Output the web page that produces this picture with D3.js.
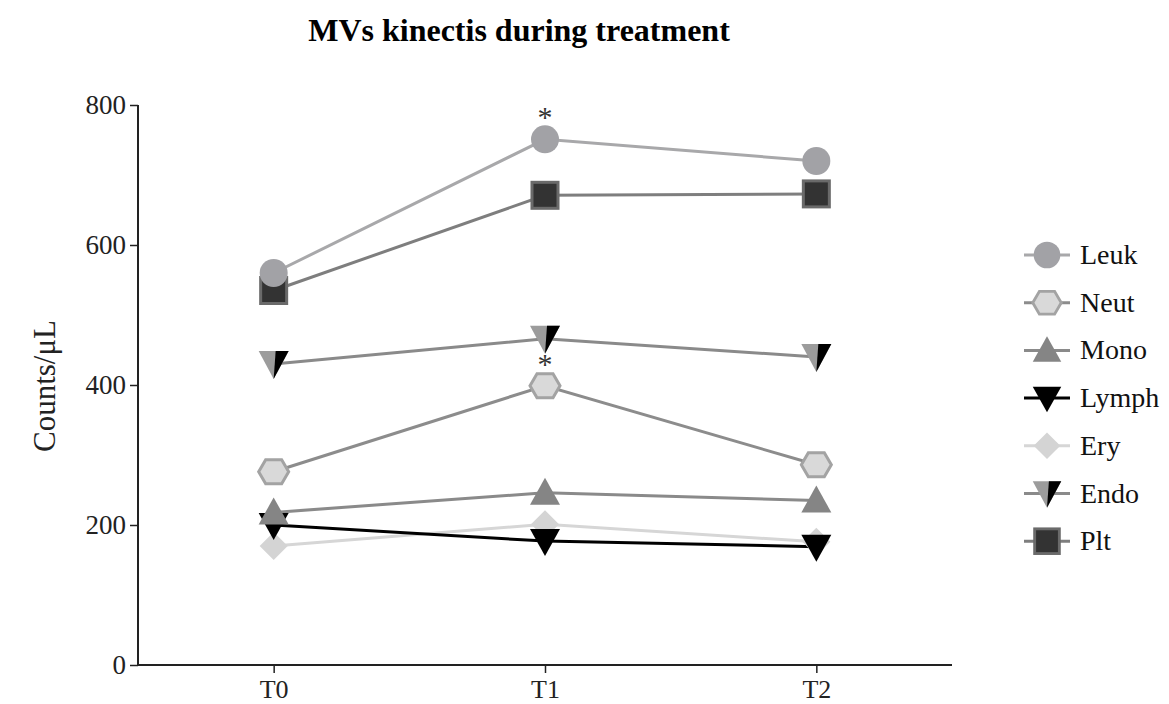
<!DOCTYPE html>
<html><head><meta charset="utf-8">
<script src="https://cdn.jsdelivr.net/npm/d3@7"></script>
<style>body{margin:0;background:#fff}svg{display:block}text{font-family:"Liberation Serif","Times New Roman",serif}</style>
</head><body>
<script>
const timepoints = ["T0","T1","T2"];
const seriesNames = ["Leuk","Neut","Mono","Lymph","Ery","Endo","Plt"];
const leuk  = [560, 751, 720];
const neut  = [276, 399, 286];
const mono  = [218, 246, 235];
const lymph = [200, 177, 169];
const ery   = [170, 201, 176];
const endo  = [430, 466, 440];
const plt   = [535, 671, 673];
const yTicks = [0, 200, 400, 600, 800];
const starIdx = [{series:"Leuk", t:"T1"}, {series:"Neut", t:"T1"}];

const values = {Leuk:leuk, Neut:neut, Mono:mono, Lymph:lymph, Ery:ery, Endo:endo, Plt:plt};
const style = {
  Leuk: {shape:"circle",  fill:"#a2a2a6", stroke:"#a2a2a6", line:"#a8a8aa", sw:0},
  Neut: {shape:"hex",     fill:"#d9d9d9", stroke:"#a3a3a3", line:"#8c8c8c", sw:3},
  Mono: {shape:"up",      fill:"#858585", stroke:"#858585", line:"#8a8a8a", sw:0},
  Lymph:{shape:"down",    fill:"#000000", stroke:"#000",    line:"#000000", sw:0},
  Ery:  {shape:"diamond", fill:"#d4d4d4", stroke:"#d4d4d4", line:"#d6d6d6", sw:0},
  Endo: {shape:"endo",    fill:"#9c9c9c", stroke:"#9c9c9c", line:"#8a8a8a", sw:0},
  Plt:  {shape:"square",  fill:"#333333", stroke:"#6a6a6a", line:"#7e7e7e", sw:3}
};

const W = 1169, H = 704;
const svg = d3.select("body").append("svg").attr("width", W).attr("height", H);

const x = d3.scalePoint().domain(timepoints).range([138, 952]).padding(0.5);
const y = d3.scaleLinear().domain([0, 800]).range([665, 105]);

// title
svg.append("text").attr("x", 519).attr("y", 41).attr("text-anchor","middle")
  .attr("font-size", 32).attr("font-weight","bold").text("MVs kinectis during treatment");

// axes
const yAxis = svg.append("g").attr("transform","translate(138,0)")
  .call(d3.axisLeft(y).tickValues(yTicks).tickSize(8).tickPadding(4));
const xAxis = svg.append("g").attr("transform","translate(0,665)")
  .call(d3.axisBottom(x).tickSize(8).tickPadding(7).tickSizeOuter(0));
[yAxis, xAxis].forEach(g => {
  g.select(".domain").attr("stroke","#222").attr("stroke-width",2);
  g.selectAll(".tick line").attr("stroke","#222").attr("stroke-width",1.5);
  g.selectAll(".tick text").attr("fill","#222")
    .attr("font-family",'"Liberation Serif","Times New Roman",serif');
});
yAxis.selectAll(".tick text").attr("font-size",27);
xAxis.selectAll(".tick text").attr("font-size",26);
yAxis.select(".domain").attr("d","M0,"+y(800)+"V"+y(0));
xAxis.select(".domain").attr("d","M138,0H952");

svg.append("text").attr("transform","translate(55,386) rotate(-90)")
  .attr("text-anchor","middle").attr("font-size",31).attr("fill","#222").text("Counts/μL");

function drawMarker(g, name, cx, cy, scale) {
  const s = style[name];
  const k = scale || 1;
  const gg = g.append("g").attr("transform",`translate(${cx},${cy}) scale(${k})`);
  if (s.shape === "circle") {
    gg.append("circle").attr("r",14).attr("fill",s.fill);
  } else if (s.shape === "square") {
    gg.append("rect").attr("x",-13).attr("y",-13).attr("width",26).attr("height",26)
      .attr("fill",s.fill).attr("stroke",s.stroke).attr("stroke-width",s.sw);
  } else if (s.shape === "hex") {
    const pts = [[-15,0],[-8,-12],[8,-12],[15,0],[8,12],[-8,12]];
    gg.append("path").attr("d","M"+pts.join("L")+"Z")
      .attr("fill",s.fill).attr("stroke",s.stroke).attr("stroke-width",s.sw);
  } else if (s.shape === "up") {
    gg.append("path").attr("d","M0,-15L15,12L-15,12Z").attr("fill",s.fill);
  } else if (s.shape === "down") {
    gg.append("path").attr("d","M-15,-12L15,-12L0,15Z").attr("fill",s.fill);
  } else if (s.shape === "diamond") {
    gg.append("path").attr("d","M0,-14L14,0L0,14L-14,0Z").attr("fill",s.fill);
  } else if (s.shape === "endo") {
    gg.append("path").attr("d","M-15,-13L15,-13L0,15Z").attr("fill",s.fill);
    gg.append("path").attr("d","M2,-13L15,-13L0,15Z").attr("fill","#000");
  }
}

// lines
const line = d3.line().x((d,i)=>x(timepoints[i])).y(d=>y(d));
const order = seriesNames.slice().reverse();
order.forEach(n => {
  svg.append("path").attr("d", line(values[n])).attr("fill","none")
    .attr("stroke", style[n].line).attr("stroke-width", 3);
});
// markers
const mg = svg.append("g");
order.forEach(n => {
  values[n].forEach((v,i) => drawMarker(mg, n, x(timepoints[i]), y(v)));
});

// significance asterisks
starIdx.forEach(s => {
  const v = values[s.series][timepoints.indexOf(s.t)];
  svg.append("text").attr("x", x(s.t)).attr("y", y(v) - 12).attr("text-anchor","middle")
    .attr("font-size",30).attr("fill","#333").attr("font-family","DejaVu Sans").text("*");
});

// legend
const lg = svg.append("g");
seriesNames.forEach((n,i) => {
  const ly = 255 + i*47.7;
  lg.append("line").attr("x1",1024).attr("x2",1070).attr("y1",ly).attr("y2",ly)
    .attr("stroke", style[n].line).attr("stroke-width",3);
  drawMarker(lg, n, 1047, ly, 0.95);
  lg.append("text").attr("x",1080).attr("y",ly+9).attr("font-size",28).attr("fill","#111").text(n);
});
</script>
</body></html>
